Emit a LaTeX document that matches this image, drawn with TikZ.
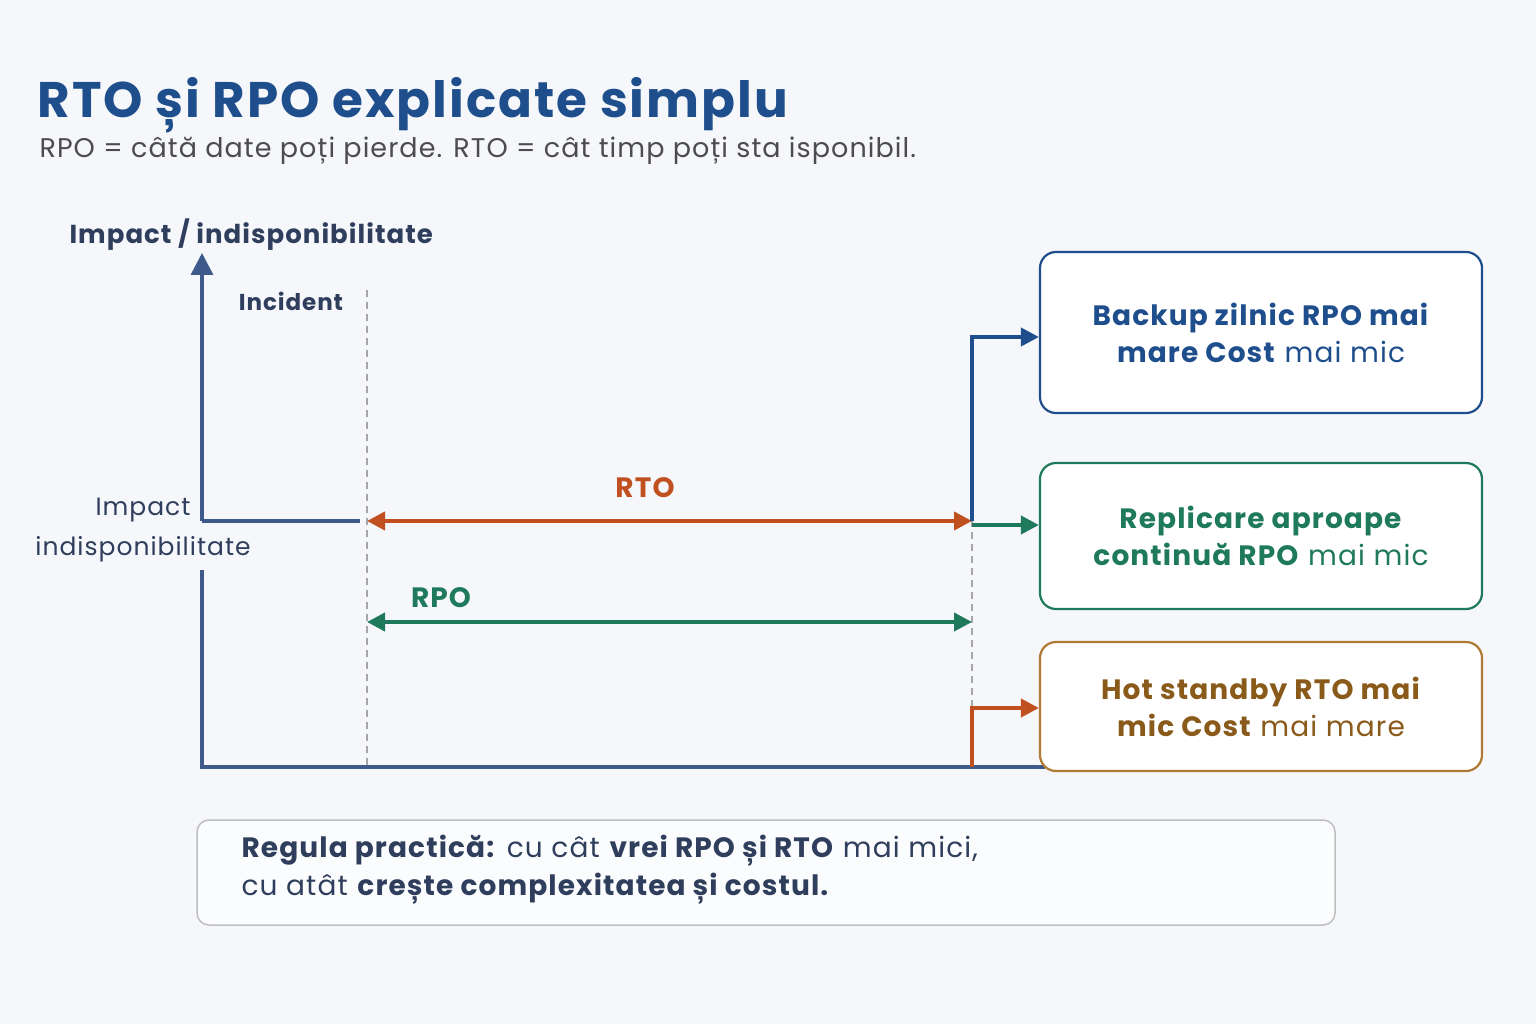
\documentclass[tikz,border=0pt]{standalone}
\usepackage{fontspec}
\setmainfont{Poppins}[LetterSpace=4]
\usetikzlibrary{arrows.meta}
\definecolor{bg}{HTML}{F5F7FB}
\definecolor{tblue}{HTML}{1F4E8C}
\definecolor{axis}{HTML}{3D5A8A}
\definecolor{dark}{HTML}{2F3E5C}
\definecolor{orng}{HTML}{C0501F}
\definecolor{grn}{HTML}{1F7A5C}
\definecolor{brn}{HTML}{8A5A1A}
\definecolor{obox}{HTML}{B07A35}
\tikzset{
 ax/.style={draw=axis,line width=3.5pt},
 dsh/.style={draw=gray!70,line width=1.8pt,dash pattern=on 7pt off 5pt},
 conn/.style={line width=4pt,-{Triangle[length=18pt,width=18pt]}},
 dbl/.style={line width=4pt,{Triangle[length=18pt,width=18pt]}-{Triangle[length=18pt,width=18pt]}},
 card/.style={draw,line width=2.2pt,rounded corners=16pt,fill=white,minimum width=442pt,align=center,font=\fontsize{28}{37}\selectfont},
}
\begin{document}
\begin{tikzpicture}[x=1pt,y=-1pt]
\fill[bg] (0,0) rectangle (1536,1024);
\node[anchor=base west,text=tblue,font=\fontsize{50}{56}\selectfont\bfseries] (title) at (34,118) {RTO și RPO explicate simplu};
\node[anchor=base west,text=black!70,font=\fontsize{27}{30}\selectfont] (sub) at (36,158) {RPO = câtă date poți pierde. RTO = cât timp poți sta isponibil.};
\node[anchor=base west,text=dark,font=\fontsize{26}{30}\selectfont\bfseries] (ylab) at (66,244) {Impact / indisponibilitate};
\node[text=dark,font=\fontsize{23}{26}\selectfont\bfseries] (inc) at (291,301) {Incident};
\node[text=dark,align=center,font=\fontsize{25}{40}\selectfont] (imp) at (143,530) {Impact\\indisponibilitate};
\coordinate (ytop) at (202,253);
\coordinate (ymid) at (202,521);
\coordinate (yh) at (360,521);
\coordinate (ylow) at (202,570);
\coordinate (o) at (202,767);
\coordinate (xend) at (1045,767);
\draw[ax,-{Triangle[length=22pt,width=22pt]}] (ymid) -- (ytop);
\draw[ax] (ymid) -- (yh);
\draw[ax] (ylow) -- (o) -- (xend);
\coordinate (d1a) at (367,290); \coordinate (d1b) at (367,767);
\coordinate (d2a) at (972,520); \coordinate (d2b) at (972,767);
\draw[dsh] (d1a) -- (d1b);
\draw[dsh] (d2a) -- (d2b);
\coordinate (ra) at (367,521); \coordinate (rb) at (972,521);
\coordinate (pa) at (367,622); \coordinate (pb) at (972,622);
\draw[dbl,orng] (ra) -- (rb);
\draw[dbl,grn] (pa) -- (pb);
\node[text=orng,font=\fontsize{28}{30}\selectfont\bfseries] (rto) at (645,488) {RTO};
\node[text=grn,font=\fontsize{28}{30}\selectfont\bfseries] (rpo) at (441,598) {RPO};
\node[card,draw=tblue,text=tblue,minimum height=161pt] (b1) at (1261,332.5) {\textbf{Backup zilnic RPO mai}\\\textbf{mare Cost} mai mic};
\node[card,draw=grn,text=grn,minimum height=146pt] (b2) at (1261,536) {\textbf{Replicare aproape}\\\textbf{continuă RPO} mai mic};
\node[card,draw=obox,text=brn,minimum height=129pt] (b3) at (1261,706.5) {\textbf{Hot standby RTO mai}\\\textbf{mic Cost} mai mare};
\coordinate (c1) at (972,521); \coordinate (c1u) at (972,337);
\coordinate (c3) at (972,767); \coordinate (c3u) at (972,708);
\draw[conn,tblue] (c1) -- (c1u) -- (b1.west |- c1u);
\draw[conn,grn] (972,525) -- (b2.west |- 0,525);
\draw[conn,orng] (c3) -- (c3u) -- (b3.west |- c3u);
\node[draw=gray!50,line width=1.5pt,rounded corners=12pt,fill=white!60!bg,minimum width=1138pt,minimum height=105pt] (rule) at (766,872.5) {};
\node[anchor=west,text=dark,align=left,font=\fontsize{28}{38}\selectfont] (rtxt) at (238,870) {\textbf{Regula practică:} cu cât \textbf{vrei RPO și RTO} mai mici,\\cu atât \textbf{crește complexitatea și costul.}};
\end{tikzpicture}
\end{document}
